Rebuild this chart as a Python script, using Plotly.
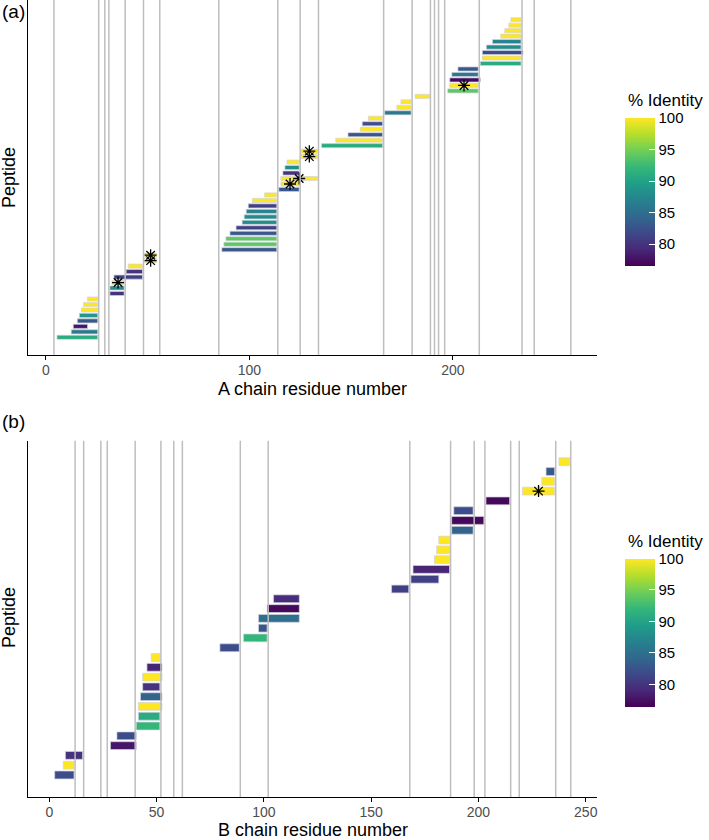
import plotly.graph_objects as go

# ---------------- Panel (a): A chain ----------------
a_start = [5.5, 12.5, 13.5, 15.5, 16.5, 17.5, 18.5, 20.5,
           31.5, 31.5, 32.5, 33.5, 39.5, 40.5, 48.5, 48.5,
           86.5, 87.5, 88.5, 90.5, 93.5, 96.5, 97.5, 98.5, 99.5, 101.5, 107.5,
           114.5, 115.5, 115.5, 116.5, 117.5, 118.5, 125.5, 125.5,
           135.5, 142.5, 148.5, 154.5, 155.5, 158.5,
           166.5, 172.5, 174.5, 181.5,
           197.5, 198.5, 198.5, 199.5, 202.5,
           213.5, 214.5, 214.5, 216.5, 219.5, 223.5, 225.5, 227.5, 228.5]
a_end = [25.5, 25.5, 20.5, 25.5, 25.5, 25.5, 25.5, 25.5,
         38.5, 38.5, 38.5, 47.5, 47.5, 47.5, 54.5, 54.5,
         113.5, 113.5, 113.5, 113.5, 113.5, 113.5, 113.5, 113.5, 113.5, 113.5, 113.5,
         124.5, 124.5, 133.5, 124.5, 124.5, 124.5, 133.5, 133.5,
         165.5, 165.5, 165.5, 165.5, 165.5, 165.5,
         179.5, 179.5, 179.5, 188.5,
         212.5, 212.5, 213.5, 212.5, 212.5,
         233.5, 233.5, 234.5, 233.5, 233.5, 233.5, 233.5, 233.5, 233.5]
a_identity = [91, 86, 78, 83, 89, 100, 100, 100,
              80, 88, 100, 81, 80, 100, 100, 100,
              83, 94, 94, 83, 81, 88, 88, 87, 81, 100, 100,
              83, 100, 100, 80, 88, 100, 100, 100,
              91, 100, 83, 100, 82, 100,
              86, 100, 100, 100,
              94, 100, 77, 86, 83,
              91, 100, 82, 88, 87, 100, 100, 100, 100]
a_star_rows = [10, 14, 15, 28, 29, 33, 34, 46]
a_cuts = [4, 26, 29, 31, 39, 48, 56, 85, 114, 125, 134, 166, 180, 189,
          191, 193, 196, 213, 234, 240, 258]
a_ticks = [0, 100, 200]

# ---------------- Panel (b): B chain ----------------
b_start = [2.5, 6.5, 7.5, 28.5, 31.5, 40.5, 41.5, 41.5, 42.5, 43.5, 43.5, 45.5, 47.5,
           79.5, 90.5, 97.5, 97.5, 101.5, 104.5,
           159.5, 168.5, 169.5, 179.5, 180.5, 181.5,
           187.5, 187.5, 188.5, 203.5,
           220.5, 229.5, 231.5, 237.5]
b_end = [11.5, 11.5, 15.5, 40.5, 40.5, 51.5, 51.5, 52.5, 52.5, 51.5, 52.5, 52.5, 51.5,
         88.5, 101.5, 101.5, 116.5, 116.5, 116.5,
         167.5, 181.5, 186.5, 186.5, 186.5, 186.5,
         197.5, 202.5, 197.5, 214.5,
         235.5, 235.5, 235.5, 242.5]
b_identity = [82, 100, 80, 78, 82, 92, 91, 100, 84, 80, 100, 79, 100,
              82, 92, 83, 85, 77, 79.5,
              81, 81, 79, 100, 100, 100,
              84, 77, 82, 77,
              100, 100, 83, 100]
b_star_rows = [29]
b_cuts = [12, 16, 24, 27, 40, 52, 58, 62, 89, 102, 168, 187, 198, 203,
          215, 219, 236, 243]
b_ticks = [0, 50, 100, 150, 200, 250]

ID_MIN, ID_MAX = 76.5, 100
cb_ticks = [80, 85, 90, 95, 100]

W, H = 709, 840
def px_x(p):
    return p / W
def px_y(p):
    return 1 - p / H

FONT = "Liberation Sans, Arial, Helvetica, sans-serif"

fig = go.Figure()

def add_panel(starts, ends, ident, star_rows, xa, ya, cax, width):
    rows = list(range(len(starts)))
    fig.add_trace(go.Bar(
        y=rows, base=starts, x=[e - s for s, e in zip(starts, ends)],
        orientation="h", width=width,
        marker=dict(color=ident, coloraxis=cax,
                    line=dict(color="rgba(210,210,222,1)", width=0.7)),
        xaxis=xa, yaxis=ya, showlegend=False, hoverinfo="skip"))
    sx = [(starts[r] + ends[r]) / 2 for r in star_rows]
    fig.add_trace(go.Scatter(
        x=sx, y=star_rows, mode="markers",
        marker=dict(symbol="asterisk-open", size=10, color="black",
                    line=dict(color="black", width=1.3)),
        xaxis=xa, yaxis=ya, showlegend=False, hoverinfo="skip"))

add_panel(a_start, a_end, a_identity, a_star_rows, "x", "y", "coloraxis", 0.75)
add_panel(b_start, b_end, b_identity, b_star_rows, "x2", "y2", "coloraxis2", 0.8)

shapes = []
for c in a_cuts:
    shapes.append(dict(type="line", xref="x", yref="y domain", x0=c, x1=c, y0=0, y1=1,
                       layer="above", line=dict(color="#BEBEBE", width=1.5)))
for c in b_cuts:
    shapes.append(dict(type="line", xref="x2", yref="y2 domain", x0=c, x1=c, y0=0, y1=1,
                       layer="above", line=dict(color="#BEBEBE", width=1.5)))

xdom = [px_x(28.3), px_x(596.7)]

def xaxis_cfg(rng, ticks, anchor):
    return dict(domain=xdom, range=rng, anchor=anchor, tickvals=ticks,
                showline=True, linecolor="black", linewidth=1.3,
                ticks="outside", ticklen=4, tickcolor="black", tickwidth=1.1,
                ticklabelstandoff=-2,
                tickfont=dict(size=14, color="#4D4D4D", family=FONT),
                showgrid=False, zeroline=False)

def yaxis_cfg(rng, dom, anchor):
    return dict(domain=dom, range=rng, anchor=anchor, showline=True,
                linecolor="black", linewidth=1.3, showticklabels=False,
                ticks="", showgrid=False, zeroline=False)

def cbar(ytop, ybot):
    return dict(x=px_x(625), xanchor="left", y=px_y((ytop + ybot) / 2), yanchor="middle",
                len=ybot - ytop, lenmode="pixels", thickness=30, thicknessmode="pixels",
                xpad=0, ypad=0, outlinewidth=0, tickvals=cb_ticks,
                ticks="inside", tickcolor="white", ticklen=6, tickwidth=1,
                tickfont=dict(size=15, color="black", family=FONT))

def ann(text, x, y, size, xanchor="center", angle=0):
    return dict(text=text, x=px_x(x), y=px_y(y), xref="paper", yref="paper",
                xanchor=xanchor, yanchor="middle", textangle=angle, showarrow=False,
                font=dict(size=size, color="black", family=FONT))

annotations = [
    ann("(a)", 0, 12, 19, "left"),
    ann("(b)", 0, 421, 19, "left"),
    ann("Peptide", 9, 178, 18, angle=-90),
    ann("Peptide", 9, 618, 18, angle=-90),
    ann("A chain residue number", 312.5, 389, 18),
    ann("B chain residue number", 312.5, 830, 18),
    ann("% Identity", 626, 100, 17, "left"),
    ann("% Identity", 626, 541.5, 17, "left"),
]

fig.update_layout(
    width=W, height=H, margin=dict(l=0, r=0, t=0, b=0),
    paper_bgcolor="white", plot_bgcolor="white",
    font=dict(family=FONT),
    barmode="overlay",
    xaxis=xaxis_cfg([-8.6, 270.7], a_ticks, "y"),
    yaxis=yaxis_cfg([-3.23, 61.6], [px_y(355), px_y(0)], "x"),
    xaxis2=xaxis_cfg([-9.8, 255.1], b_ticks, "y2"),
    yaxis2=yaxis_cfg([-2.25, 34.15], [px_y(797), px_y(440.7)], "x2"),
    coloraxis=dict(colorscale="Viridis", cmin=ID_MIN, cmax=ID_MAX, colorbar=cbar(118.3, 266)),
    coloraxis2=dict(colorscale="Viridis", cmin=ID_MIN, cmax=ID_MAX, colorbar=cbar(558.3, 706.7)),
    shapes=shapes, annotations=annotations,
)

fig.write_html("out.html", config={"displayModeBar": False},
               post_script="document.body.style.margin='0px';")
